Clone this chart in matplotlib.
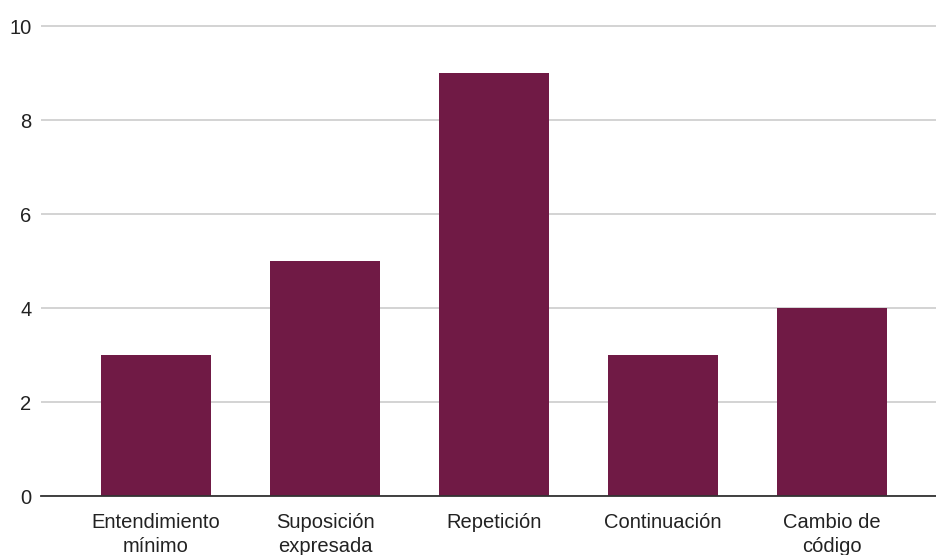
import matplotlib.pyplot as plt

# Categories and counts
categories = ["Entendimiento\nmínimo", "Suposición\nexpresada", "Repetición",
              "Continuación", "Cambio de\ncódigo"]
counts = [3, 5, 9, 3, 4]
yticks = [0, 2, 4, 6, 8, 10]

plt.rcParams["font.family"] = ["Liberation Sans", "DejaVu Sans"]

fig = plt.figure(figsize=(9.37, 5.55), dpi=100)
ax = fig.add_axes([41 / 937, 59 / 555, 896 / 937, 476 / 555])

x = list(range(len(categories)))
ax.bar(x, counts, width=0.65, color="#701a45", zorder=3)

ax.set_xlim(-0.68, 4.62)
ax.set_ylim(0, 10.13)
ax.set_yticks(yticks)
ax.set_yticklabels([str(t) for t in yticks], fontsize=14.5, color="#222222")
ax.set_xticks(x)
ax.set_xticklabels(categories, fontsize=14.5, color="#222222", linespacing=1.35)

ax.grid(axis="y", color="#cccccc", linewidth=1.2, zorder=0)
ax.tick_params(axis="both", length=0)
ax.tick_params(axis="y", pad=7)
ax.tick_params(axis="x", pad=12)

for side in ["top", "right", "left"]:
    ax.spines[side].set_visible(False)
ax.spines["bottom"].set_color("#333333")
ax.spines["bottom"].set_linewidth(1.3)
ax.spines["bottom"].set_zorder(4)

fig.savefig("out.png", dpi=100)
